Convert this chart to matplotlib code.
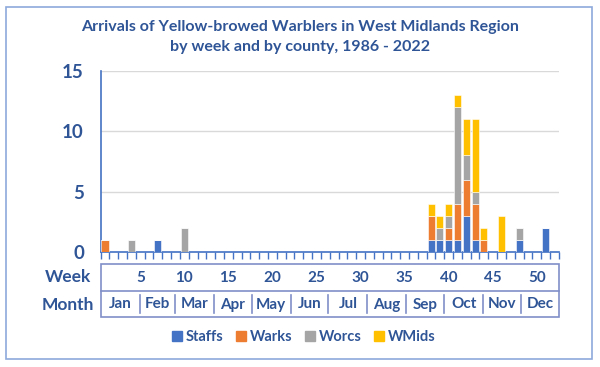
import numpy as np
import matplotlib
matplotlib.use('Agg')
import matplotlib.pyplot as plt
import matplotlib.transforms as mtrans
from matplotlib.patches import Rectangle
from matplotlib.lines import Line2D

plt.rcParams['font.family'] = ['Lato', 'DejaVu Sans']

##! Data: arrivals per week (only weeks with records)
weeks  = [1, 4, 7, 10, 38, 39, 40, 41, 42, 43, 44, 46, 48, 51]
staffs = [0, 0, 1, 0,  1, 1, 1, 1, 3, 1, 0, 0, 1, 2]
warks  = [1, 0, 0, 0,  2, 0, 1, 3, 3, 3, 1, 0, 0, 0]
worcs  = [0, 1, 0, 2,  0, 1, 1, 8, 2, 1, 0, 0, 1, 0]
wmids  = [0, 0, 0, 0,  1, 1, 1, 1, 3, 6, 1, 3, 0, 0]

counties = ['Staffs', 'Warks', 'Worcs', 'WMids']
colours  = ['#4472C4', '#ED7D31', '#A5A5A5', '#FFC000']

weekLabels  = [5, 10, 15, 20, 25, 30, 35, 40, 45, 50]
months      = ['Jan', 'Feb', 'Mar', 'Apr', 'May', 'Jun',
               'Jul', 'Aug', 'Sep', 'Oct', 'Nov', 'Dec']
monthDays   = [31, 28, 31, 30, 31, 30, 31, 31, 30, 31, 30, 31]

txtCol  = '#2F5597'
axCol   = '#4472C4'
boxCol  = '#7F8FC8'

fig = plt.figure(figsize=(6.0, 3.67), dpi=100)
W, H = 600., 367.

def fy(py):
    return (H - py) / H

ax = fig.add_axes([100.6/W, fy(252), 458.2/W, 181/H])

bottom = np.zeros(len(weeks))
for name, vals, col in zip(counties, [staffs, warks, worcs, wmids], colours):
    vals = np.array(vals, dtype=float)
    ax.bar(weeks, vals, width=0.8, bottom=bottom, color=col,
           edgecolor='white', linewidth=0.4, zorder=3, label=name)
    bottom += vals

ax.set_xlim(0.5, 52.5)
ax.set_ylim(0, 15)
ax.set_yticks([0, 5, 10, 15])
ax.tick_params(axis='y', length=0, pad=12, labelsize=13.5,
               labelcolor=txtCol)
for lab in ax.get_yticklabels():
    lab.set_fontweight('bold')
ax.set_xticks(np.arange(0.5, 53, 1))
ax.set_xticklabels([])
ax.tick_params(axis='x', length=5, width=1, color=axCol, direction='out')
ax.grid(axis='y', color='#D9D9D9', linewidth=1, zorder=0)
for s in ['top', 'right']:
    ax.spines[s].set_visible(False)
ax.spines['left'].set_color(axCol)
ax.spines['bottom'].set_color(axCol)
ax.spines['left'].set_linewidth(1.2)
ax.spines['bottom'].set_linewidth(1.2)

##! Title
fig.text(0.5, fy(27), 'Arrivals of Yellow-browed Warblers in West Midlands Region',
         ha='center', va='center', fontsize=11.5, fontweight='bold', color=txtCol)
fig.text(0.5, fy(47), 'by week and by county, 1986 - 2022',
         ha='center', va='center', fontsize=11.5, fontweight='bold', color=txtCol)

##! Week / Month table under the axis
tr = mtrans.blended_transform_factory(ax.transData, fig.transFigure)
yTop, yMid, yBot = fy(264), fy(290.7), fy(317.3)
fig.add_artist(Rectangle((0.5, yBot), 52, yTop - yBot, transform=tr,
                         fill=False, edgecolor=boxCol, linewidth=1.2))
fig.add_artist(Line2D([0.5, 52.5], [yMid, yMid], transform=tr,
                      color=boxCol, linewidth=1.2))

for wk in weekLabels:
    fig.text(wk, fy(277.5), str(wk), transform=tr, ha='center', va='center',
             fontsize=11, fontweight='bold', color=txtCol)

cum = np.cumsum([0] + monthDays) / 7.0 + 0.5
for i, m in enumerate(months):
    fig.text((cum[i] + cum[i+1]) / 2., fy(304.5), m, transform=tr,
             ha='center', va='center', fontsize=11, fontweight='bold',
             color=txtCol)
    if i > 0:
        fig.add_artist(Line2D([cum[i], cum[i]], [fy(295), fy(313)],
                              transform=tr, color=boxCol, linewidth=1.2))

fig.text(68/W, fy(277.5), 'Week', ha='center', va='center', fontsize=12.5,
         fontweight='bold', color=txtCol)
fig.text(68/W, fy(304.5), 'Month', ha='center', va='center', fontsize=12.5,
         fontweight='bold', color=txtCol)

##! Legend
handles = [Line2D([], [], marker='s', linestyle='none', markersize=7,
                  markerfacecolor=c, markeredgecolor=c) for c in colours]
leg = fig.legend(handles, counties, loc='center', ncol=4,
                 bbox_to_anchor=(303/W, fy(337)), frameon=False,
                 handletextpad=0.1, columnspacing=0.7, handlelength=1.0,
                 prop={'size': 10.5, 'weight': 'bold'})
for t in leg.get_texts():
    t.set_color(txtCol)

##! Outer frame
fig.add_artist(Rectangle((6/W, fy(359)), 586/W, 352/H,
                         transform=fig.transFigure, fill=False,
                         edgecolor='#8EA9DB', linewidth=1.2))

plt.savefig('out.png', dpi=100)
plt.close()
